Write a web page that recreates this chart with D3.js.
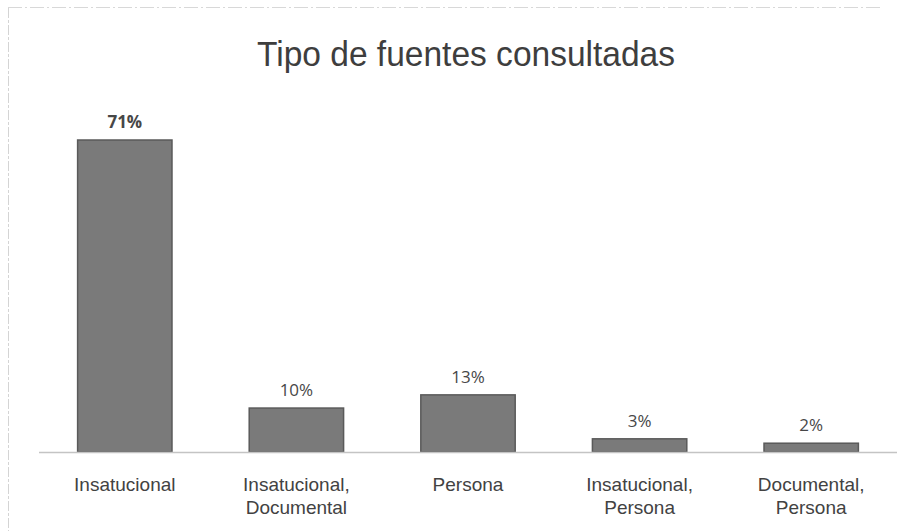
<!DOCTYPE html>
<html>
<head>
<meta charset="utf-8">
<script src="https://cdn.jsdelivr.net/npm/d3@7"></script>
<style>
  html, body { margin: 0; padding: 0; background: #fff; }
  svg { display: block; }
</style>
</head>
<body>
<svg id="chart" width="916" height="531"></svg>
<script>
// Source types consulted, share of total (%)
const categories = [
  ["Insatucional"],
  ["Insatucional,", "Documental"],
  ["Persona"],
  ["Insatucional,", "Persona"],
  ["Documental,", "Persona"]
];
const values = [71, 10, 13, 3, 2];
const valueLabels = ["71%", "10%", "13%", "3%", "2%"];
const title = "Tipo de fuentes consultadas";

const svg = d3.select("#chart");
const baseY = 452;

const x = d3.scaleBand()
  .domain(d3.range(values.length))
  .range([39, 897])
  .paddingInner(0.45)
  .paddingOuter(0.225);

const y = d3.scaleLinear()
  .domain([0, 71])
  .range([baseY, 140]);

// faint outer frame (top and left edges)
svg.append("line")
  .attr("x1", 8).attr("x2", 880).attr("y1", 7.5).attr("y2", 7.5)
  .attr("stroke", "#d8d8d8").attr("stroke-width", 1)
  .attr("stroke-dasharray", "14 3 2 3");
svg.append("line")
  .attr("x1", 8.5).attr("x2", 8.5).attr("y1", 8).attr("y2", 531)
  .attr("stroke", "#d4d4d4").attr("stroke-width", 1)
  .attr("stroke-dasharray", "10 2 3 2");

// title
svg.append("text")
  .attr("x", 466).attr("y", 66)
  .attr("text-anchor", "middle")
  .attr("font-family", "'Liberation Sans', Arial, sans-serif")
  .attr("font-size", 35)
  .attr("textLength", 418)
  .attr("lengthAdjust", "spacingAndGlyphs")
  .attr("fill", "#3e3e3e")
  .text(title);

// bars
svg.append("g").selectAll("rect")
  .data(values)
  .join("rect")
  .attr("x", (d, i) => x(i))
  .attr("y", d => y(d))
  .attr("width", x.bandwidth())
  .attr("height", d => baseY - y(d))
  .attr("fill", "#7a7a7a")
  .attr("stroke", "#5a5a5a")
  .attr("stroke-width", 1.5);

// baseline
svg.append("line")
  .attr("x1", 39).attr("x2", 897)
  .attr("y1", baseY + 0.5).attr("y2", baseY + 0.5)
  .attr("stroke", "#c4c4c4").attr("stroke-width", 1.5);

// value labels
svg.append("g").selectAll("text")
  .data(values)
  .join("text")
  .attr("x", (d, i) => x(i) + x.bandwidth() / 2)
  .attr("y", d => y(d) - 12)
  .attr("text-anchor", "middle")
  .attr("font-family", "'Open Sans', 'DejaVu Sans', sans-serif")
  .attr("font-size", 17)
  .attr("font-weight", (d, i) => i === 0 ? 700 : 400)
  .attr("fill", "#474747")
  .text((d, i) => valueLabels[i]);

// category labels
const cat = svg.append("g").selectAll("text")
  .data(categories)
  .join("text")
  .attr("x", (d, i) => x(i) + x.bandwidth() / 2)
  .attr("y", 491)
  .attr("text-anchor", "middle")
  .attr("font-family", "'Liberation Sans', Arial, sans-serif")
  .attr("font-size", 19)
  .attr("fill", "#424242");
cat.selectAll("tspan")
  .data(d => d)
  .join("tspan")
  .attr("x", function () { return d3.select(this.parentNode).attr("x"); })
  .attr("dy", (d, i) => i === 0 ? 0 : 23)
  .text(d => d);
</script>
</body>
</html>
